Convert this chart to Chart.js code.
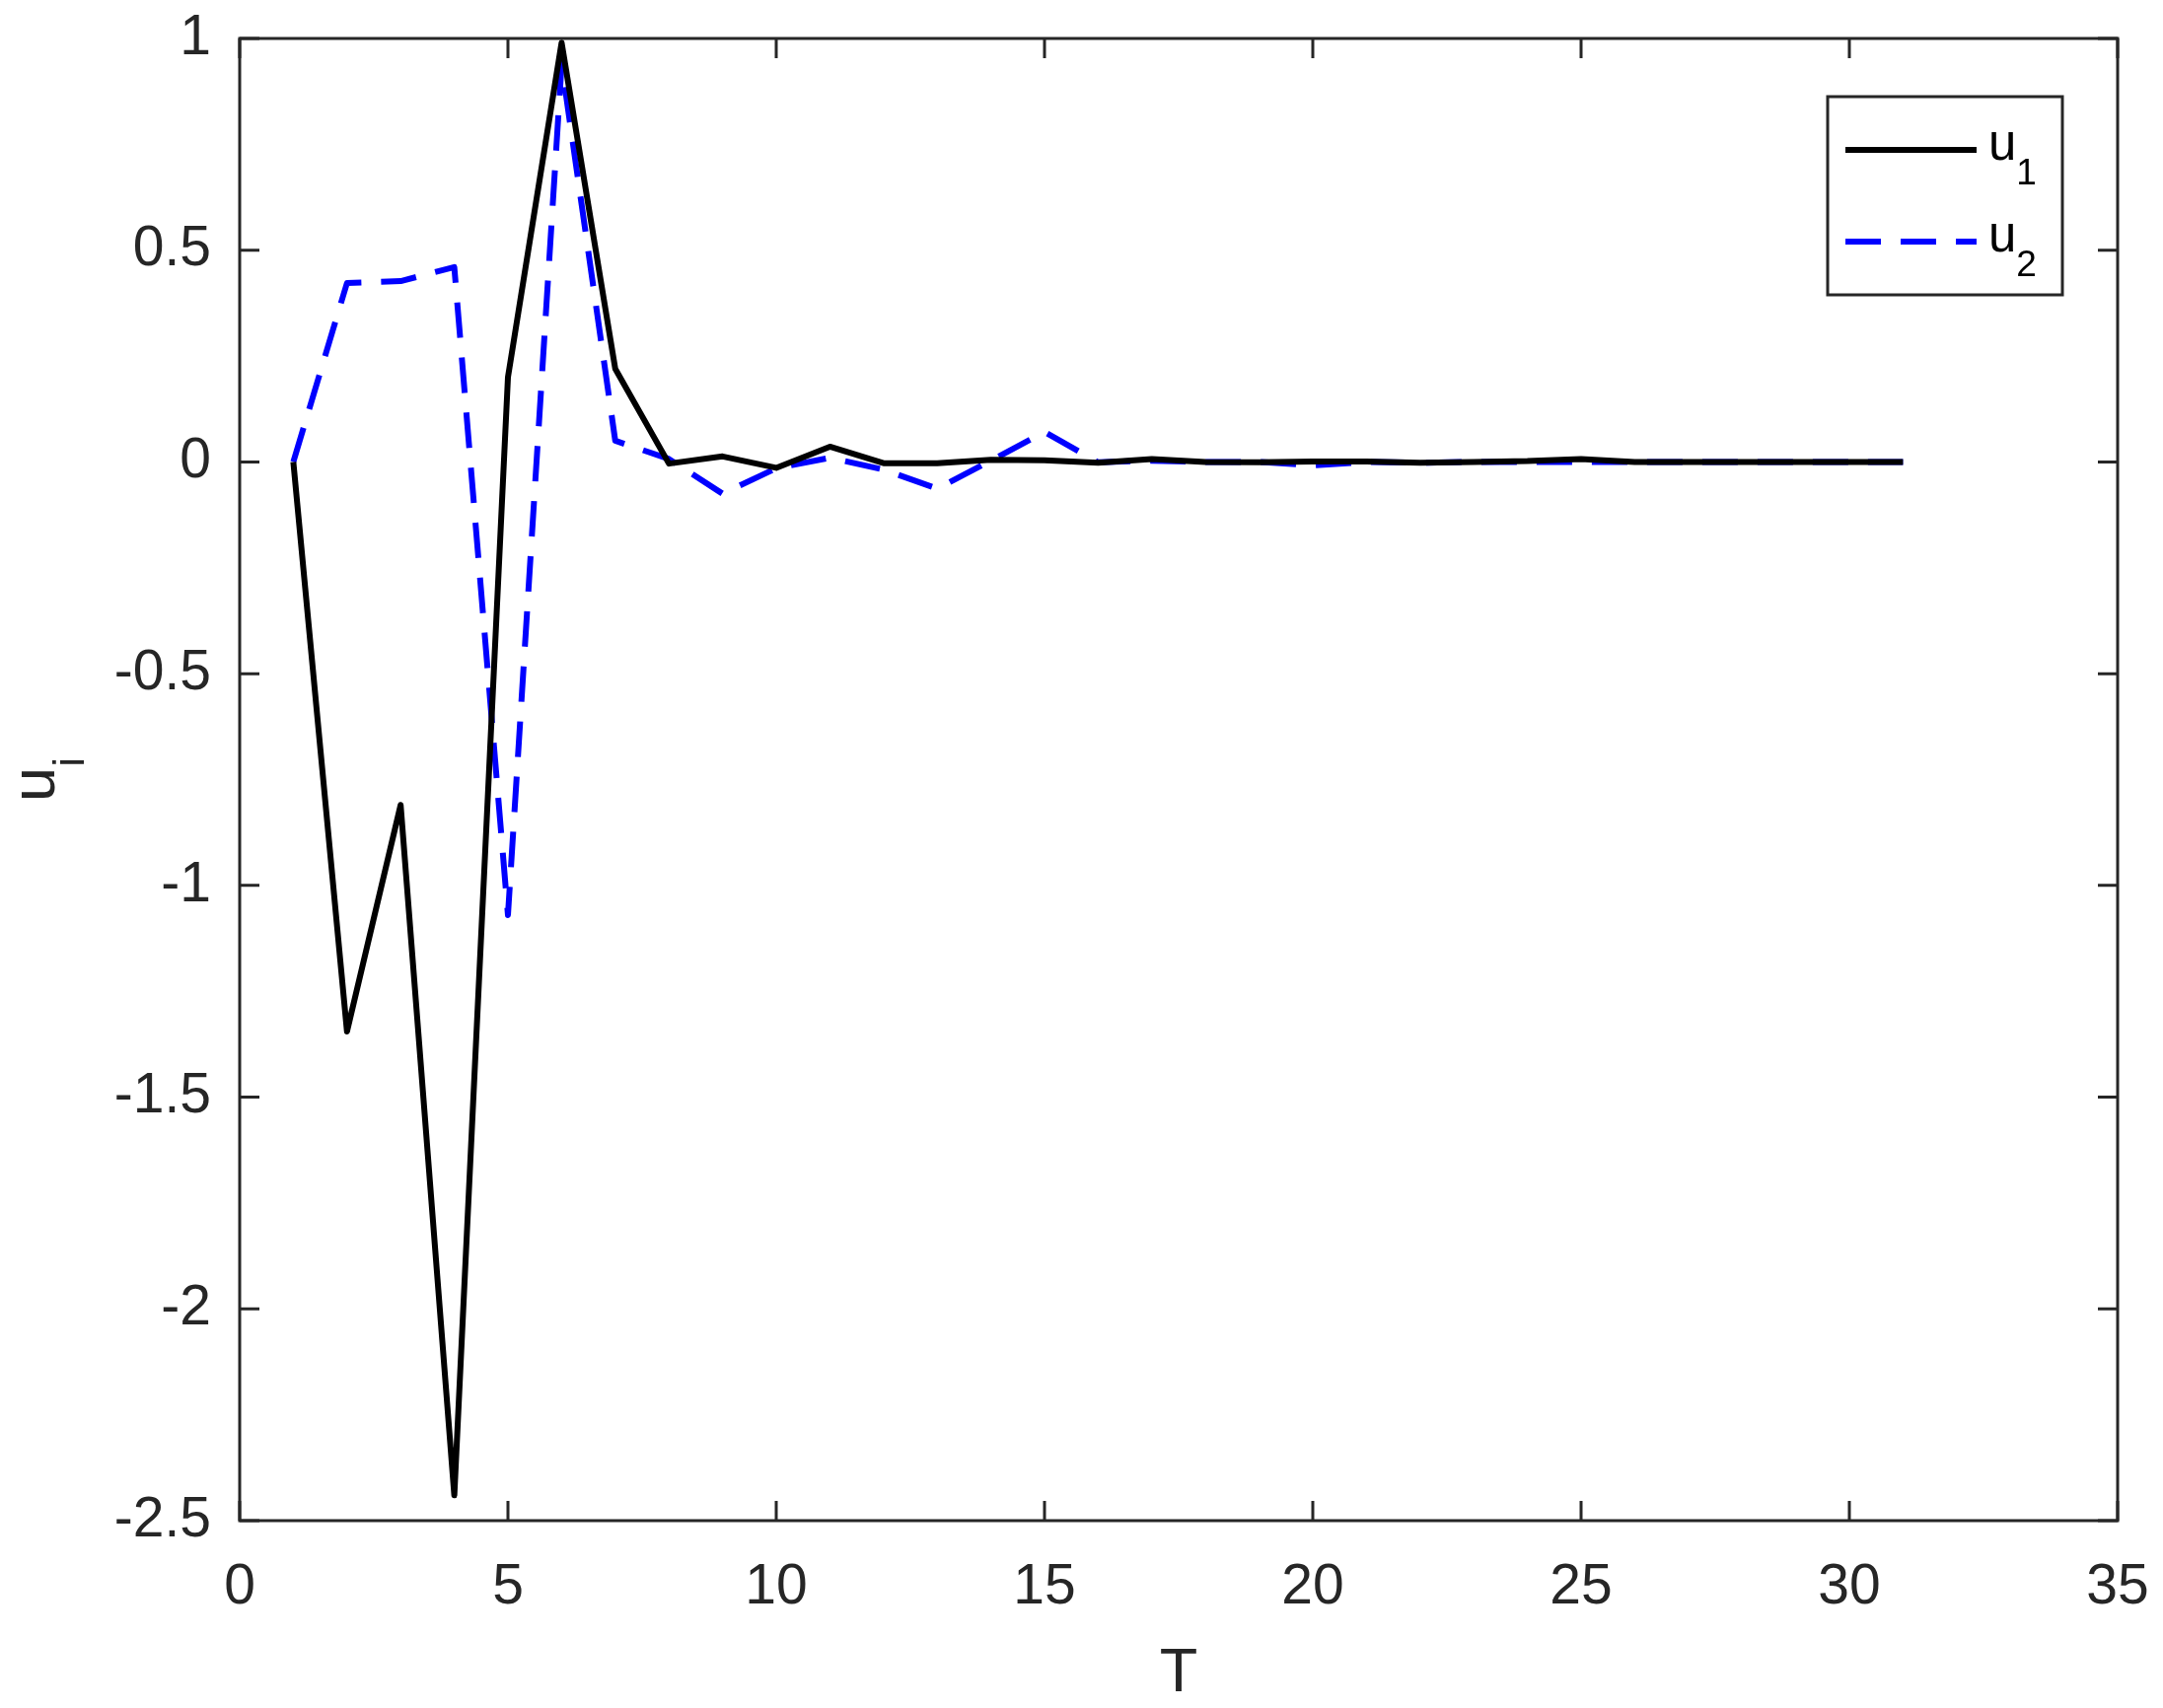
<!DOCTYPE html>
<html>
<head>
<meta charset="utf-8">
<script src="https://cdn.jsdelivr.net/npm/chart.js@4.4.1/dist/chart.umd.min.js"></script>
<style>
  html, body { margin: 0; padding: 0; background: #fff; }
  #wrap { width: 2193px; height: 1732px; }
</style>
</head>
<body>
<div id="wrap"><canvas id="myChart" width="2193" height="1732" style="width:2193px;height:1732px"></canvas></div>
<script>
// time steps
const steps = [1, 2, 3, 4, 5, 6, 7, 8, 9, 10, 11, 12, 13, 14, 15, 16,
               17, 18, 19, 20, 21, 22, 23, 24, 25, 26, 27, 28, 29, 30, 31];

// control inputs
const u1 = [0, -1.345, -0.81, -2.44, 0.2, 0.99, 0.22, -0.004, 0.013, -0.014, 0.036,
            -0.003, -0.003, 0.005, 0.004, -0.002, 0.007, 0.0, -0.001, 0.001, 0.001,
            -0.002, 0.0, 0.002, 0.007, 0.0, 0.0, 0.0, 0.0, 0.0, 0.0];
const u2 = [0, 0.4225, 0.427, 0.46, -1.07, 0.94, 0.05, 0.007, -0.075, -0.015, 0.01,
            -0.018, -0.063, 0.003, 0.071, -0.001, 0.003, 0.0, 0.0, -0.008, 0.0,
            -0.002, 0.0, 0.0, 0.0, 0.0, 0.0, 0.0, 0.0, 0.0, 0.0];

const xTicks = [0, 5, 10, 15, 20, 25, 30, 35];
const yTicks = [-2.5, -2, -1.5, -1, -0.5, 0, 0.5, 1];

const FONT = "'Liberation Sans', Arial, Helvetica, sans-serif";
const AXIS_COLOR = '#262626';

// draws "base" followed by a lowered, smaller "sub" starting at x (left aligned)
function drawSubText(ctx, base, sub, x, y, size, subSize, drop) {
    ctx.font = size + 'px ' + FONT;
    ctx.fillText(base, x, y);
    const w = ctx.measureText(base).width;
    ctx.font = subSize + 'px ' + FONT;
    ctx.fillText(sub, x + w, y + drop);
}
function subTextWidth(ctx, base, sub, size, subSize) {
    ctx.font = size + 'px ' + FONT;
    const w1 = ctx.measureText(base).width;
    ctx.font = subSize + 'px ' + FONT;
    return w1 + ctx.measureText(sub).width;
}

// matlab style box: frame, inward ticks on all sides, axis titles, legend
const matlabBox = {
    id: 'matlabBox',
    afterDraw(chart) {
        const ctx = chart.ctx;
        const area = chart.chartArea;
        const xs = chart.scales.x;
        const ys = chart.scales.y;
        const tickLen = 20;
        ctx.save();
        ctx.strokeStyle = AXIS_COLOR;
        ctx.lineWidth = 3;
        ctx.lineCap = 'butt';
        ctx.beginPath();
        xTicks.forEach(v => {
            const px = xs.getPixelForValue(v);
            ctx.moveTo(px, area.bottom); ctx.lineTo(px, area.bottom - tickLen);
            ctx.moveTo(px, area.top); ctx.lineTo(px, area.top + tickLen);
        });
        yTicks.forEach(v => {
            const py = ys.getPixelForValue(v);
            ctx.moveTo(area.left, py); ctx.lineTo(area.left + tickLen, py);
            ctx.moveTo(area.right, py); ctx.lineTo(area.right - tickLen, py);
        });
        ctx.stroke();
        ctx.strokeRect(area.left, area.top, area.right - area.left, area.bottom - area.top);

        // axis titles
        ctx.fillStyle = AXIS_COLOR;
        ctx.textBaseline = 'alphabetic';
        ctx.textAlign = 'center';
        ctx.font = '63px ' + FONT;
        ctx.fillText('T', (area.left + area.right) / 2, 1715);

        ctx.save();
        ctx.translate(55, (area.top + area.bottom) / 2);
        ctx.rotate(-Math.PI / 2);
        ctx.textAlign = 'left';
        const tw = subTextWidth(ctx, 'u', 'i', 63, 44);
        drawSubText(ctx, 'u', 'i', -tw / 2, 0, 63, 44, 30);
        ctx.restore();

        // legend
        const bx = area.right - 56 - 238, by = area.top + 59, bw = 238, bh = 201;
        ctx.fillStyle = '#ffffff';
        ctx.fillRect(bx, by, bw, bh);
        ctx.strokeStyle = AXIS_COLOR;
        ctx.lineWidth = 3;
        ctx.strokeRect(bx, by, bw, bh);
        const rows = [54, 147];
        chart.data.datasets.forEach((ds, i) => {
            const ly = by + rows[i];
            ctx.strokeStyle = ds.borderColor;
            ctx.lineWidth = ds.borderWidth;
            ctx.setLineDash(ds.borderDash || []);
            ctx.beginPath();
            ctx.moveTo(bx + 18, ly);
            ctx.lineTo(bx + 151, ly);
            ctx.stroke();
            ctx.setLineDash([]);
            const parts = ds.label.split('_');
            ctx.fillStyle = '#000000';
            ctx.textAlign = 'left';
            drawSubText(ctx, parts[0], parts[1], bx + 163, ly + 10, 51, 37, 25);
        });
        ctx.restore();
    }
};

const ctx = document.getElementById('myChart').getContext('2d');
const myChart = new Chart(ctx, {
    type: 'line',
    data: {
        datasets: [
            {
                label: 'u_1',
                data: steps.map((t, i) => ({ x: t, y: u1[i] })),
                borderColor: '#000000',
                borderWidth: 6,
                pointRadius: 0,
                tension: 0,
                borderJoinStyle: 'round',
                fill: false
            },
            {
                label: 'u_2',
                data: steps.map((t, i) => ({ x: t, y: u2[i] })),
                borderColor: '#0000ff',
                borderWidth: 6,
                borderDash: [36, 20],
                pointRadius: 0,
                tension: 0,
                borderJoinStyle: 'round',
                fill: false
            }
        ]
    },
    options: {
        responsive: false,
        animation: false,
        devicePixelRatio: 1,
        layout: { padding: { top: 39, right: 46, left: 0, bottom: 0 } },
        plugins: {
            legend: { display: false },
            tooltip: { enabled: false }
        },
        scales: {
            x: {
                type: 'linear',
                min: 0,
                max: 35,
                afterBuildTicks: scale => { scale.ticks = xTicks.map(v => ({ value: v })); },
                afterFit: scale => {
                    scale.height = 190;
                    scale.paddingLeft = 0;
                    scale.paddingRight = 0;
                },
                grid: { display: false, drawTicks: false, tickLength: 0 },
                border: { display: false },
                ticks: {
                    color: AXIS_COLOR,
                    font: { family: FONT, size: 57 },
                    padding: 34,
                    maxRotation: 0,
                    callback: v => String(v)
                }
            },
            y: {
                type: 'linear',
                min: -2.5,
                max: 1,
                afterBuildTicks: scale => { scale.ticks = yTicks.map(v => ({ value: v })); },
                afterFit: scale => {
                    scale.width = 243;
                    scale.paddingTop = 0;
                    scale.paddingBottom = 0;
                },
                grid: { display: false, drawTicks: false, tickLength: 0 },
                border: { display: false },
                ticks: {
                    color: AXIS_COLOR,
                    font: { family: FONT, size: 57 },
                    padding: 29,
                    callback: v => String(v)
                }
            }
        }
    },
    plugins: [matlabBox]
});
</script>
</body>
</html>
